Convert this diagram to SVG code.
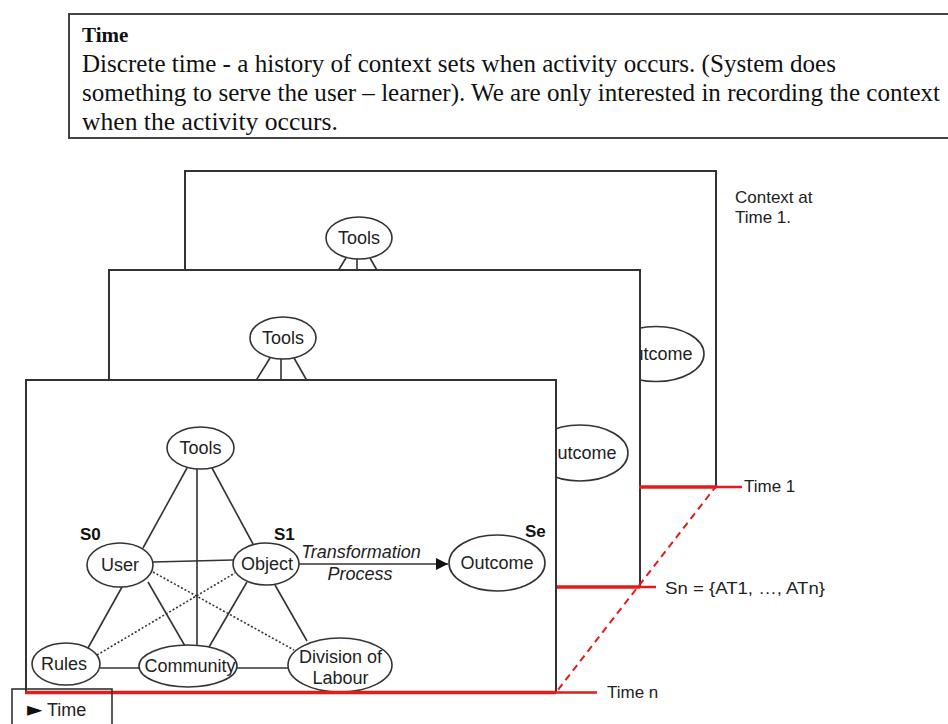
<svg xmlns="http://www.w3.org/2000/svg" width="948" height="724" viewBox="0 0 948 724">
<defs>
<style>
.frame{fill:#fff;stroke:#333;stroke-width:2}
.node{fill:#fff;stroke:#333;stroke-width:1.6}
.edge{stroke:#333;stroke-width:1.6;fill:none}
.dot{stroke:#333;stroke-width:1.6;fill:none;stroke-dasharray:2 2}
.lbl{font-family:"Liberation Sans",Arial,sans-serif;font-size:18px;fill:#222;text-anchor:middle}
.s{font-family:"Liberation Sans",Arial,sans-serif;font-size:17px;font-weight:bold;fill:#111}
.note{font-family:"Liberation Sans",Arial,sans-serif;font-size:17px;fill:#222}
.serif{font-family:"Liberation Serif","Times New Roman",serif;fill:#111}
.red{stroke:#e21b1b;fill:none}
</style>
<marker id="arr" viewBox="0 0 10 10" refX="10" refY="5" markerWidth="14" markerHeight="12" markerUnits="userSpaceOnUse" orient="auto">
<path d="M0,0 L10,5 L0,10 z" fill="#111"/>
</marker>
</defs>
<rect width="948" height="724" fill="#fff"/>

<g id="time-note">
<rect x="69" y="14" width="900" height="124" fill="#fff" stroke="#444" stroke-width="2"/>
<text class="serif" x="82" y="42" font-size="21" font-weight="bold">Time</text>
<text class="serif" x="82" y="72" font-size="26" textLength="754" lengthAdjust="spacingAndGlyphs">Discrete time - a history of context sets when activity occurs. (System does</text>
<text class="serif" x="82" y="101" font-size="26" textLength="858" lengthAdjust="spacingAndGlyphs">something to serve the user – learner). We are only interested in recording the context</text>
<text class="serif" x="82" y="130" font-size="26" textLength="256" lengthAdjust="spacingAndGlyphs">when the activity occurs.</text>
</g>

<g id="frame-time1">
<rect class="frame" x="185" y="171" width="531" height="316"/>
<g class="connectors">
<line class="edge" x1="346" y1="258" x2="320" y2="300"/>
<line class="edge" x1="357" y1="259" x2="357" y2="300"/>
<line class="edge" x1="370" y1="258" x2="394" y2="300"/>
</g>
<g id="tools-t1"><ellipse class="node" cx="359" cy="238" rx="33" ry="21"/><text class="lbl" x="359" y="244">Tools</text></g>
<g id="outcome-t1"><ellipse class="node" cx="656" cy="354" rx="48" ry="27.5"/><text class="lbl" x="656" y="360">Outcome</text></g>
</g>

<g id="frame-time2">
<rect class="frame" x="109" y="270" width="531" height="317"/>
<g class="connectors">
<line class="edge" x1="270" y1="358" x2="244" y2="400"/>
<line class="edge" x1="281" y1="359" x2="281" y2="400"/>
<line class="edge" x1="294" y1="358" x2="318" y2="400"/>
</g>
<g id="tools-t2"><ellipse class="node" cx="283" cy="338" rx="33" ry="21"/><text class="lbl" x="283" y="344">Tools</text></g>
<g id="outcome-t2"><ellipse class="node" cx="580" cy="453" rx="48" ry="28"/><text class="lbl" x="580" y="459">Outcome</text></g>
</g>

<g id="frame-timen">
<rect class="frame" x="26" y="380" width="530" height="312"/>
<g id="connectors">
<line class="edge" x1="187" y1="468" x2="143" y2="548"/>
<line class="edge" x1="212" y1="468" x2="253" y2="544"/>
<line class="edge" x1="197" y1="469" x2="197" y2="646"/>
<line class="edge" x1="153" y1="562" x2="233" y2="560"/>
<line class="edge" x1="122" y1="587" x2="88" y2="648"/>
<line class="edge" x1="148" y1="582" x2="185" y2="646"/>
<line class="edge" x1="247" y1="582" x2="209" y2="647"/>
<line class="edge" x1="275" y1="585" x2="307" y2="641"/>
<line class="edge" x1="100" y1="668" x2="139" y2="668"/>
<line class="edge" x1="237" y1="668" x2="288" y2="668"/>
<line class="dot" x1="153" y1="572" x2="294" y2="650"/>
<line class="dot" x1="97" y1="655" x2="235" y2="573"/>
<line class="edge" x1="299" y1="564" x2="448" y2="564" marker-end="url(#arr)"/>
</g>
<g id="tools"><ellipse class="node" cx="200.5" cy="448" rx="33.5" ry="21"/><text class="lbl" x="200.5" y="454">Tools</text></g>
<g id="user"><ellipse class="node" cx="120" cy="565" rx="33" ry="22"/><text class="lbl" x="120" y="571">User</text></g>
<g id="object"><ellipse class="node" cx="266" cy="564" rx="33" ry="21"/><text class="lbl" x="267" y="570">Object</text></g>
<g id="rules"><ellipse class="node" cx="66" cy="664" rx="34" ry="21"/><text class="lbl" x="64" y="670">Rules</text></g>
<g id="community"><ellipse class="node" cx="188" cy="666" rx="49" ry="21"/><text class="lbl" x="190" y="672">Community</text></g>
<g id="division"><ellipse class="node" cx="340" cy="665" rx="52" ry="27"/><text class="lbl" x="340.5" y="663">Division of</text><text class="lbl" x="340.5" y="684">Labour</text></g>
<g id="outcome"><ellipse class="node" cx="497" cy="563" rx="48" ry="28"/><text class="lbl" x="497" y="569">Outcome</text></g>
<text class="s" x="80" y="540">S0</text>
<text class="s" x="274" y="540">S1</text>
<text class="s" x="525" y="537">Se</text>
<text class="lbl" x="361" y="558" style="font-style:italic">Transformation</text>
<text class="lbl" x="360" y="580" style="font-style:italic">Process</text>
</g>

<g id="timeline">
<line class="red" x1="639" y1="487" x2="716" y2="487" stroke-width="3.5"/>
<line class="red" x1="716" y1="487" x2="742" y2="487" stroke-width="2.5"/>
<line class="red" x1="557" y1="587" x2="640" y2="587" stroke-width="3.5"/>
<line class="red" x1="640" y1="587" x2="656" y2="587" stroke-width="2.5"/>
<line class="red" x1="25" y1="692.5" x2="556" y2="692.5" stroke-width="3.5"/>
<line class="red" x1="556" y1="692.5" x2="597" y2="692.5" stroke-width="2.5"/>
<line class="red" x1="717" y1="485" x2="557" y2="691" stroke-width="2" stroke-dasharray="7 5"/>
<text class="note" x="744" y="492">Time 1</text>
<text class="note" x="665" y="594" textLength="160" lengthAdjust="spacingAndGlyphs">Sn = {AT1, …, ATn}</text>
<text class="note" x="607" y="698">Time n</text>
<text class="note" x="735" y="203">Context at</text>
<text class="note" x="735" y="223">Time 1.</text>
</g>

<g id="time-legend">
<rect x="12" y="689" width="100" height="50" fill="none" stroke="#333" stroke-width="1.6"/>
<text x="27" y="716" style="font-family:'DejaVu Sans',sans-serif;font-size:20px;fill:#111">►</text>
<text class="note" x="47" y="716" style="font-size:18px">Time</text>
</g>
</svg>
